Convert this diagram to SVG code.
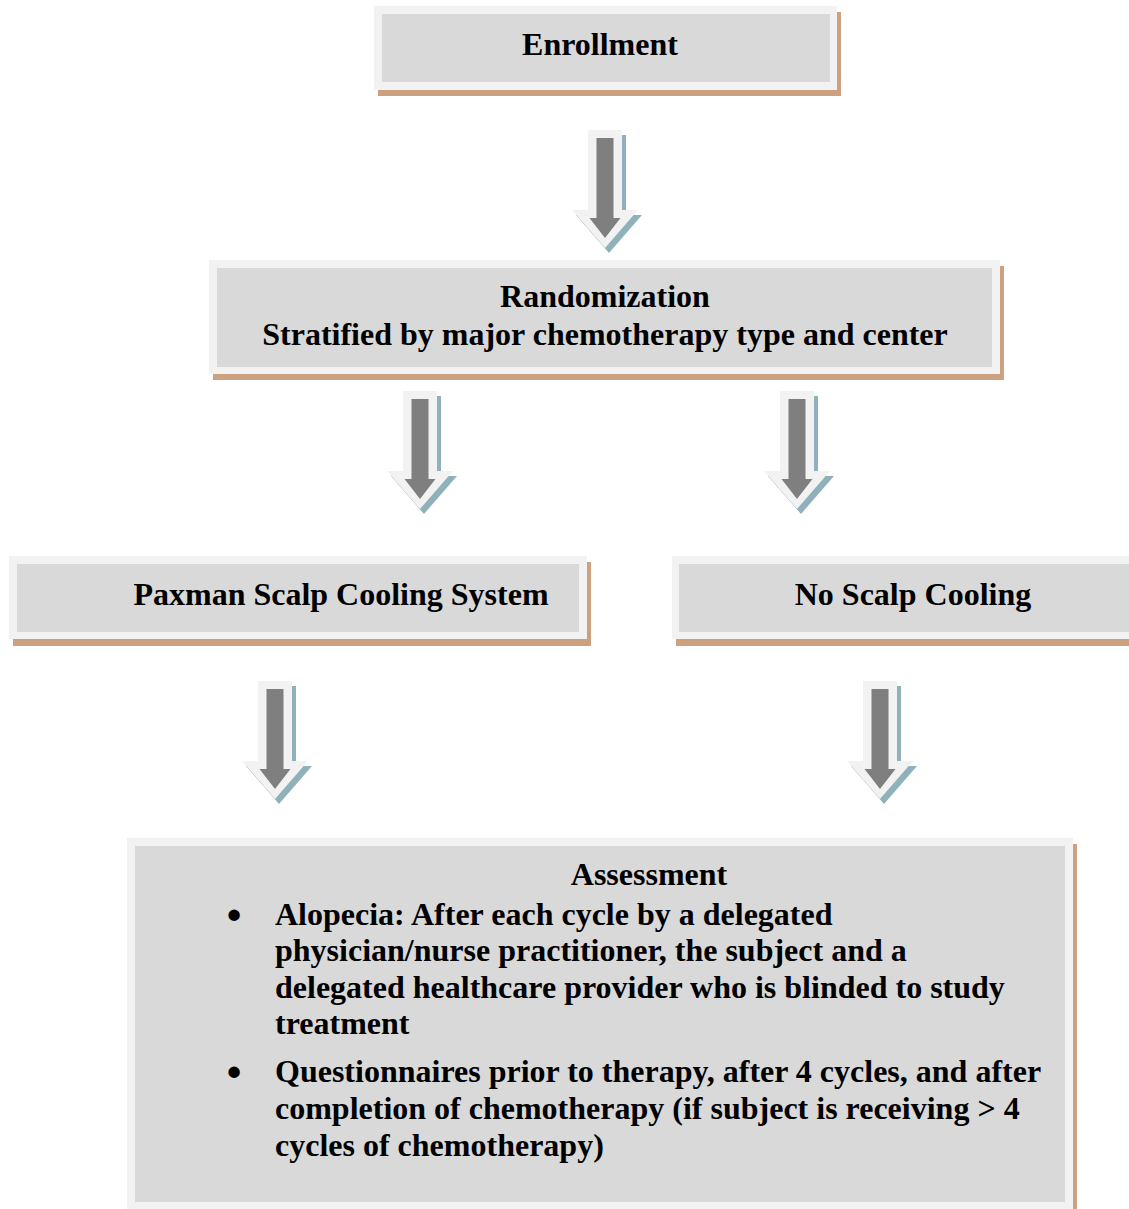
<svg xmlns="http://www.w3.org/2000/svg" xmlns:xlink="http://www.w3.org/1999/xlink" width="1129" height="1209" viewBox="0 0 1129 1209">
<style>
.shadow{fill:#cda07f}
.frame{fill:#f2f2f2}
.inner{fill:#d9d9d9}
.t{font-family:"Liberation Serif","Times New Roman",serif;font-weight:bold;font-size:32px;fill:#000}
.c{text-anchor:middle}
.b{font-size:42px}
</style>
<defs>
<g id="downArrow">
<path d="M-17,0 H17 V80 H33 L0,118 L-33,80 H-17 Z" fill="#8fb1b9" transform="translate(4,5)"/>
<path d="M-17,0 H17 V80 H33 L0,118 L-33,80 H-17 Z" fill="#f2f2f2"/>
<path d="M-8.5,8 H8.5 V88 H15.5 L0,108 L-15.5,88 H-8.5 Z" fill="#7f7f7f"/>
</g>
</defs>
<rect width="1129" height="1209" fill="#ffffff"/>

<g id="connectors">
<use xlink:href="#downArrow" href="#downArrow" x="605" y="130"/>
<use xlink:href="#downArrow" href="#downArrow" x="420" y="391"/>
<use xlink:href="#downArrow" href="#downArrow" x="797" y="391"/>
<use xlink:href="#downArrow" href="#downArrow" x="275" y="681"/>
<use xlink:href="#downArrow" href="#downArrow" x="880" y="681"/>
</g>

<g id="enrollment">
<rect class="shadow" x="378" y="12" width="463" height="84"/>
<rect class="frame" x="374" y="6" width="463" height="84"/>
<rect class="inner" x="382" y="14" width="448" height="68"/>
<text class="t c" x="600" y="55">Enrollment</text>
</g>

<g id="randomization">
<rect class="shadow" x="213" y="266" width="791" height="114"/>
<rect class="frame" x="209" y="260" width="791" height="114"/>
<rect class="inner" x="217" y="268" width="775" height="99"/>
<text class="t c" x="605" y="307">Randomization</text>
<text class="t c" x="605" y="345">Stratified by major chemotherapy type and center</text>
</g>

<g id="paxman">
<rect class="shadow" x="13" y="562" width="578" height="84"/>
<rect class="frame" x="9" y="556" width="578" height="83"/>
<rect class="inner" x="17" y="564" width="562" height="68"/>
<text class="t c" x="341" y="605">Paxman Scalp Cooling System</text>
</g>

<g id="no-cooling">
<rect class="shadow" x="676" y="562" width="470" height="84"/>
<rect class="frame" x="672" y="556" width="470" height="83"/>
<rect class="inner" x="679" y="564" width="460" height="68"/>
<text class="t c" x="913" y="605">No Scalp Cooling</text>
</g>

<g id="assessment">
<rect class="shadow" x="131" y="844" width="946" height="380"/>
<rect class="frame" x="127" y="838" width="946" height="371"/>
<rect class="inner" x="135" y="846" width="930" height="356"/>
<text class="t c" x="649" y="885">Assessment</text>
<text class="t c b" x="234" y="929">•</text>
<text class="t" x="275" y="925">Alopecia: After each cycle by a delegated</text>
<text class="t" x="275" y="961">physician/nurse practitioner, the subject and a</text>
<text class="t" x="275" y="998">delegated healthcare provider who is blinded to study</text>
<text class="t" x="275" y="1034">treatment</text>
<text class="t c b" x="234" y="1086">•</text>
<text class="t" x="275" y="1082">Questionnaires prior to therapy, after 4 cycles, and after</text>
<text class="t" x="275" y="1119">completion of chemotherapy (if subject is receiving &gt; 4</text>
<text class="t" x="275" y="1156">cycles of chemotherapy)</text>
</g>
</svg>
